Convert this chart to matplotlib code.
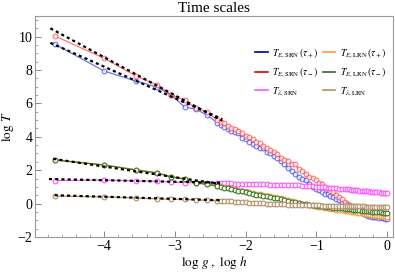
import matplotlib
matplotlib.use('Agg')
import matplotlib.pyplot as plt
from matplotlib.ticker import MultipleLocator

plt.rcParams['font.family'] = ['Liberation Serif', 'DejaVu Serif']
plt.rcParams['mathtext.fontset'] = 'stix'

# log g (shared grid for all series)
log_g = [-4.70, -4.00, -3.55, -3.25, -3.05, -2.86, -2.70, -2.55, -2.40,
         -2.35, -2.30, -2.25, -2.20, -2.15, -2.10, -2.05, -2.00, -1.95, -1.90,
         -1.85, -1.80, -1.75, -1.70, -1.65, -1.60, -1.55, -1.50, -1.45, -1.40,
         -1.35, -1.30, -1.25, -1.20, -1.15, -1.10, -1.05, -1.00,
         -0.96, -0.92, -0.88, -0.84, -0.80, -0.76, -0.72, -0.68, -0.64, -0.60,
         -0.57, -0.54, -0.51, -0.48, -0.45, -0.42, -0.39, -0.36, -0.33, -0.30,
         -0.27, -0.24, -0.21, -0.18, -0.15, -0.12, -0.09, -0.06, -0.03, 0.00]

t_e_srn_plus = [9.56, 7.94, 7.34, 6.98, 6.50, 5.78, 5.65, 5.30, 4.85,
                4.70, 4.60, 4.45, 4.35, 4.30, 4.20, 3.95, 3.85, 3.70, 3.55,
                3.45, 3.35, 3.30, 3.10, 3.03, 2.85, 2.75, 2.55, 2.40, 2.15,
                1.95, 1.80, 1.60, 1.45, 1.40, 1.15, 1.00, 0.90,
                0.80, 0.70, 0.60, 0.55, 0.45, 0.40, 0.25, 0.20, 0.10, 0.02,
                -0.05, -0.10, -0.20, -0.25, -0.35, -0.40, -0.50, -0.55, -0.62, -0.70,
                -0.72, -0.75, -0.80, -0.78, -0.82, -0.85, -0.83, -0.88, -0.90, -0.92]

t_e_srn_minus = [10.05, 8.70, 7.64, 7.10, 6.50, 6.20, 5.72, 5.50, 5.00,
                 4.90, 4.80, 4.65, 4.55, 4.45, 4.35, 4.20, 4.05, 4.00, 3.85,
                 3.70, 3.60, 3.45, 3.35, 3.20, 3.10, 2.95, 2.75, 2.60, 2.55,
                 2.40, 2.35, 2.05, 1.95, 1.80, 1.60, 1.55, 1.40,
                 1.25, 1.20, 1.00, 0.90, 0.75, 0.70, 0.50, 0.40, 0.30, 0.10,
                 -0.05, -0.10, -0.15, -0.20, -0.22, -0.25, -0.30, -0.35, -0.40, -0.45,
                 -0.50, -0.52, -0.55, -0.60, -0.62, -0.65, -0.68, -0.70, -0.72, -0.75]

t_lam_srn = [1.38, 1.41, 1.36, 1.33, 1.29, 1.26, 1.25, 1.24, 1.23,
             1.22, 1.22, 1.21, 1.21, 1.20, 1.20, 1.19, 1.18, 1.17, 1.17,
             1.16, 1.16, 1.15, 1.15, 1.14, 1.14, 1.13, 1.13, 1.12, 1.11,
             1.11, 1.10, 1.09, 1.08, 1.07, 1.05, 1.03, 1.01,
             1.00, 0.99, 0.97, 0.96, 0.94, 0.93, 0.92, 0.90, 0.89, 0.87,
             0.86, 0.85, 0.83, 0.82, 0.81, 0.80, 0.78, 0.77, 0.76, 0.75,
             0.73, 0.72, 0.71, 0.70, 0.69, 0.67, 0.66, 0.65, 0.64, 0.62]

t_e_lrn_plus = [2.62, 2.32, 2.03, 1.85, 1.61, 1.49, 1.26, 1.18, 1.08,
                1.04, 1.00, 0.95, 0.91, 0.87, 0.83, 0.78, 0.74, 0.69, 0.65,
                0.60, 0.56, 0.52, 0.48, 0.44, 0.40, 0.35, 0.31, 0.26, 0.20,
                0.13, 0.08, 0.03, -0.01, -0.05, -0.09, -0.13, -0.16,
                -0.19, -0.22, -0.25, -0.28, -0.30, -0.33, -0.36, -0.38, -0.41, -0.43,
                -0.45, -0.47, -0.49, -0.51, -0.53, -0.55, -0.57, -0.59, -0.61, -0.63,
                -0.64, -0.66, -0.68, -0.69, -0.71, -0.72, -0.74, -0.75, -0.77, -0.78]

t_e_lrn_minus = [2.61, 2.31, 2.01, 1.83, 1.59, 1.47, 1.23, 1.15, 1.05,
                 1.00, 0.96, 0.91, 0.87, 0.82, 0.78, 0.73, 0.68, 0.62, 0.58,
                 0.54, 0.51, 0.47, 0.43, 0.40, 0.36, 0.32, 0.28, 0.23, 0.17,
                 0.11, 0.07, 0.03, 0.00, -0.03, -0.06, -0.09, -0.12,
                 -0.14, -0.16, -0.18, -0.20, -0.22, -0.24, -0.26, -0.27, -0.29, -0.31,
                 -0.32, -0.34, -0.35, -0.37, -0.38, -0.40, -0.41, -0.42, -0.44, -0.45,
                 -0.46, -0.47, -0.49, -0.50, -0.51, -0.52, -0.53, -0.54, -0.55, -0.56]

t_lam_lrn = [0.45, 0.40, 0.34, 0.28, 0.26, 0.25, 0.22, 0.20, 0.17,
             0.16, 0.15, 0.14, 0.13, 0.12, 0.10, 0.09, 0.07, 0.05, 0.04,
             0.03, 0.02, 0.01, 0.00, -0.01, -0.02, -0.03, -0.04, -0.05, -0.06,
             -0.07, -0.08, -0.08, -0.09, -0.09, -0.10, -0.10, -0.11,
             -0.11, -0.12, -0.12, -0.12, -0.13, -0.13, -0.13, -0.14, -0.14, -0.14,
             -0.15, -0.15, -0.15, -0.16, -0.16, -0.16, -0.17, -0.17, -0.17, -0.18,
             -0.18, -0.18, -0.19, -0.19, -0.19, -0.20, -0.20, -0.20, -0.21, -0.21]

# linear fits (end points in log g, log T)
fit_x = [[-4.76, -2.33], [-4.76, -2.33], [-4.78, -2.36], [-4.72, -2.36], [-4.70, -2.36]]
fit_y = [[10.50, 4.96], [9.63, 5.06], [1.47, 1.25], [2.68, 1.17], [0.50, 0.20]]

labels = [r'$T_{E,\mathrm{SRN}}\,(\tau_+)$', r'$T_{E,\mathrm{SRN}}\,(\tau_-)$',
          r'$T_{\lambda,\mathrm{SRN}}$', r'$T_{E,\mathrm{LRN}}\,(\tau_+)$',
          r'$T_{E,\mathrm{LRN}}\,(\tau_-)$', r'$T_{\lambda,\mathrm{LRN}}$']
line_colors = ['#3a48f0', '#ff4a4a', '#ff55ff', '#ff9a3a', '#3d7a2a', '#b0906a']
legend_colors = ['#00008b', '#e00000', '#ff55ff', '#ff9a3a', '#2e6b2e', '#b0906a']


def main():
    series = [t_e_srn_plus, t_e_srn_minus, t_lam_srn, t_e_lrn_plus, t_e_lrn_minus, t_lam_lrn]

    fig = plt.figure(figsize=(3.95, 2.73), dpi=100)
    ax = fig.add_axes([0.089, 0.132, 0.906, 0.809])

    for ys, c in zip(series, line_colors):
        alpha = 0.75 if c in ('#3a48f0', '#ff4a4a') else 1.0
        ax.plot(log_g, ys, color=c, lw=0.9, marker='o', ms=3.4, mfc='white',
                mec=c, mew=0.8, alpha=alpha)

    for fx, fy in zip(fit_x, fit_y):
        ax.plot(fx, fy, color='black', lw=1.6, ls=(0, (1.4, 1.4)))

    # legend with darker swatches, as in the original (filled column by column)
    handles = [plt.Line2D([], [], color=c, lw=1.2) for c in legend_colors]
    ax.legend(handles, labels, ncol=2, loc='upper right',
              bbox_to_anchor=(1.008, 0.905), frameon=False,
              fontsize=7.0, handlelength=1.3, handletextpad=0.5,
              columnspacing=0.4, labelspacing=0.6)

    ax.set_xlim(-4.975, 0.085)
    ax.set_ylim(-2, 11.23)
    ax.xaxis.set_major_locator(MultipleLocator(1))
    ax.xaxis.set_minor_locator(MultipleLocator(0.2))
    ax.yaxis.set_major_locator(MultipleLocator(2))
    ax.yaxis.set_minor_locator(MultipleLocator(0.5))
    ax.tick_params(which='both', direction='in', top=False, right=False,
                   color='#888888', labelsize=10, pad=2)
    ax.tick_params(which='major', length=4, width=0.7)
    ax.tick_params(which='minor', length=2, width=0.5)
    for s in ax.spines.values():
        s.set_color('#999999')
        s.set_linewidth(0.8)

    ax.set_title('Time scales', fontsize=11, pad=3)
    ax.set_xlabel(r'$\log\,g\ ,\ \log\,h$', fontsize=9.5, labelpad=1)
    ax.set_ylabel(r'$\log\,T$', fontsize=9.5, labelpad=1)

    fig.savefig('out.png', dpi=100)


if __name__ == '__main__':
    main()
